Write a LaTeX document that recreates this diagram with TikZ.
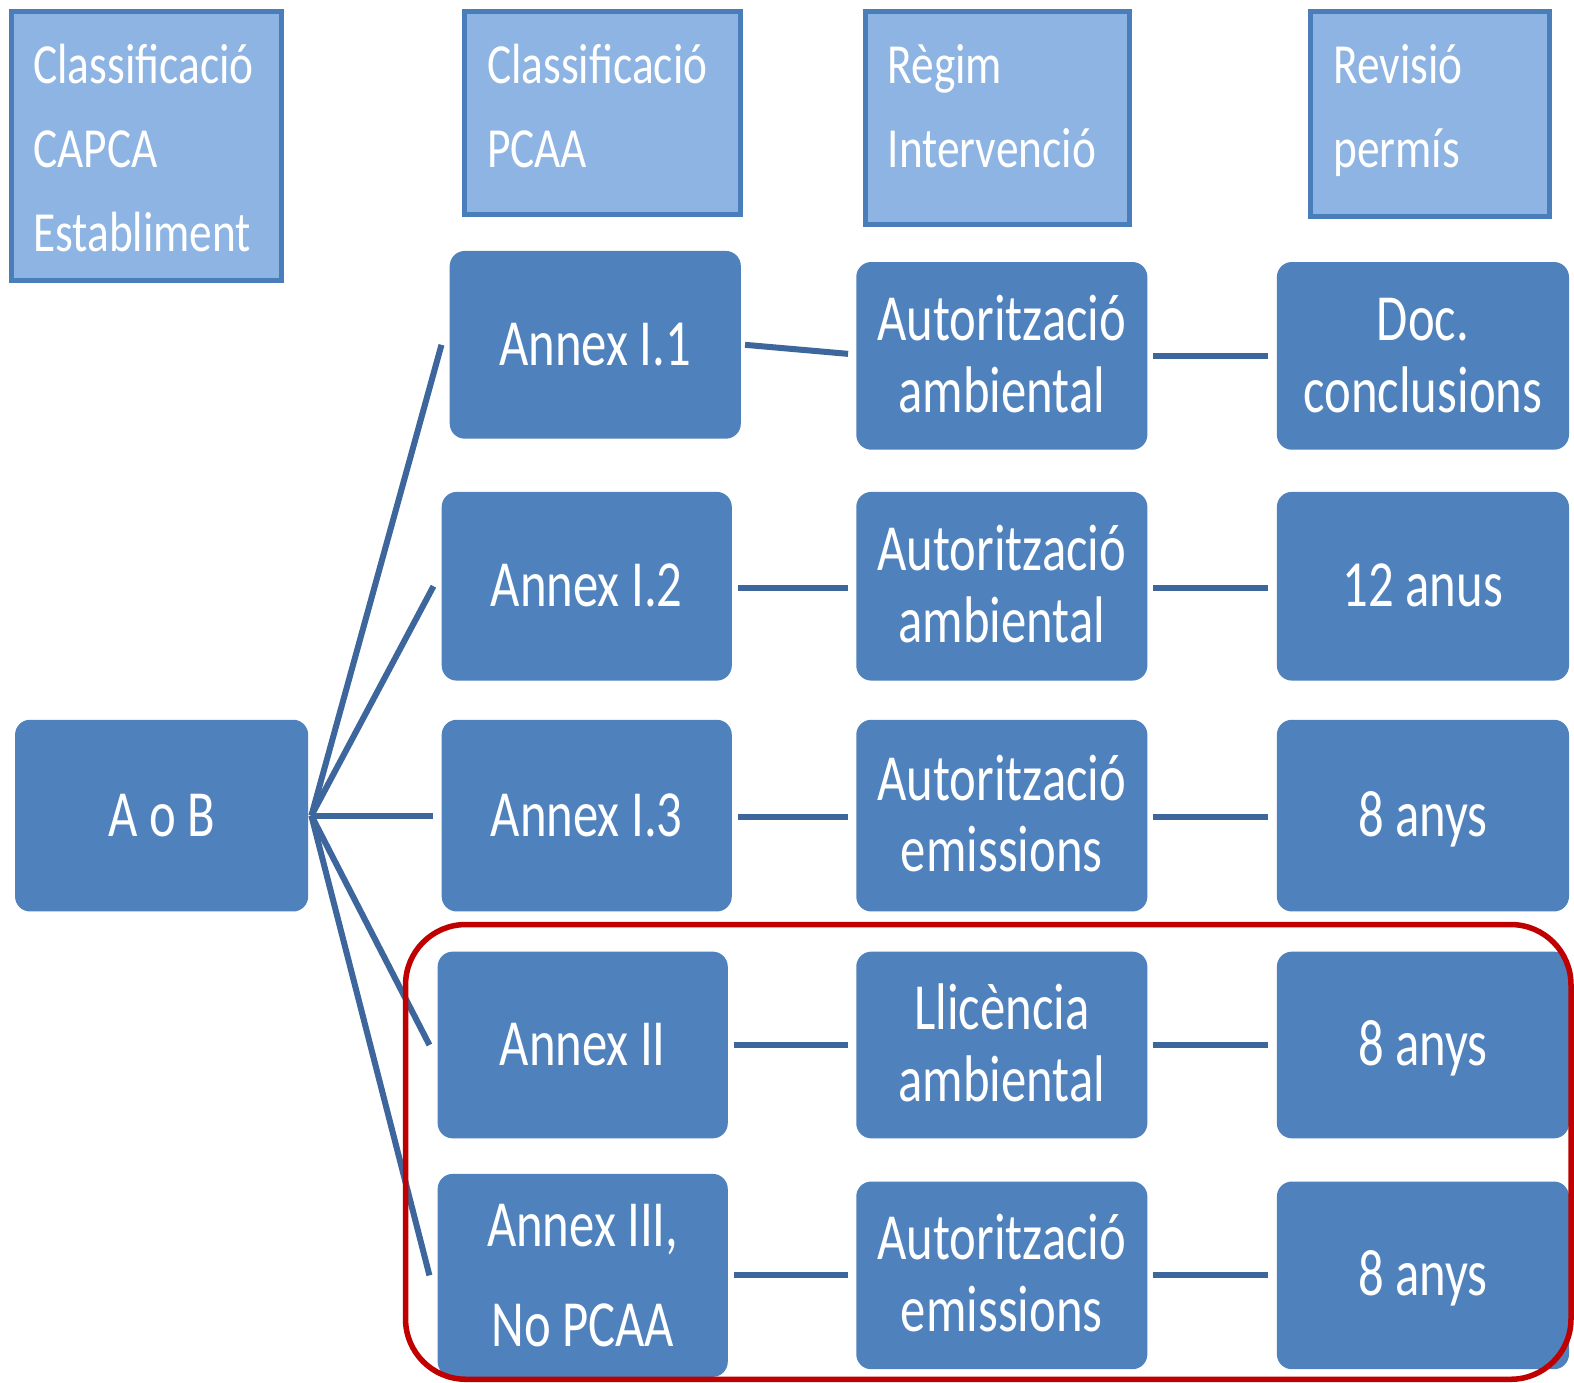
\documentclass[tikz,border=0pt]{standalone}
\usepackage{fontspec}
\setmainfont{Carlito}
\usepackage{graphicx}
\definecolor{mainblue}{HTML}{4F81BD}
\definecolor{hdrfill}{HTML}{8DB4E2}
\definecolor{hdrline}{HTML}{4A7EBB}
\definecolor{linkblue}{HTML}{3D669C}
\definecolor{frame}{HTML}{C00000}
\newcommand\stx[1]{\raisebox{0pt}[\dimexpr\height+12pt\relax][\depth]{\scalebox{1}[1.3]{\begin{tabular}{@{}c@{}}#1\end{tabular}}}}
\newcommand\stxwide[1]{\raisebox{0pt}[\dimexpr\height+2pt\relax][\depth]{\scalebox{1}[1.3]{\begin{tabular}{@{}c@{}}#1\end{tabular}}}}
\newcommand\htx[1]{\scalebox{1}[1.25]{\begin{tabular}{@{}l@{}}#1\end{tabular}}}
\begin{document}
\begin{tikzpicture}[x=1pt,y=-1pt,
  mainbox/.style={fill=mainblue, rounded corners=15pt, minimum width=290pt, minimum height=188pt, inner sep=0pt, text=white, font=\fontsize{50.5}{55}\selectfont},
  hdrbox/.style={draw=hdrline, line width=5pt, fill=hdrfill, inner sep=0pt},
  hdrtext/.style={anchor=west, inner sep=0pt, text=white, font=\fontsize{45.2}{67}\selectfont},
  link/.style={draw=linkblue, line width=6pt},
  redframe/.style={draw=frame, line width=5.5pt, rounded corners=60pt, inner sep=0pt}]
\useasboundingbox[fill=white] (0,0) rectangle (1568,1377);
% headers
\node[hdrbox, minimum width=269pt, minimum height=268pt] (h1) at (145.5,145) {};
\node[hdrbox, minimum width=275pt, minimum height=203pt] (h2) at (600.5,112.5) {};
\node[hdrbox, minimum width=263pt, minimum height=213pt] (h3) at (993.5,117.5) {};
\node[hdrbox, minimum width=239pt, minimum height=205pt] (h4) at (1424.5,113.5) {};
\node[hdrtext] (h1t) at (33,150) {\htx{Classificació\\CAPCA\\Establiment}};
\node[hdrtext] (h2t) at (485,108) {\htx{Classificació\\PCAA}};
\node[hdrtext] (h3t) at (884,108) {\htx{Règim\\Intervenció}};
\node[hdrtext] (h4t) at (1328,108) {\htx{Revisió\\permís}};
% column 1
\node[mainbox, minimum width=292pt, minimum height=191pt] (aob) at (161,812.5) {\stx{A o B}};
% column 2
\node[mainbox, minimum height=187pt] (a11) at (593,343.5) {\stx{Annex I.1}};
\node[mainbox, minimum width=289pt] (a12) at (584.5,584) {\stx{Annex I.2}};
\node[mainbox, minimum width=289pt, minimum height=191pt] (a13) at (584.5,812.5) {\stx{Annex I.3}};
\node[mainbox, minimum width=289pt, minimum height=186pt] (a2) at (580.5,1041) {\stx{Annex II}};
\node[mainbox, minimum width=289pt, minimum height=187pt] (a3) at (580.5,1270.5) {\fontsize{50.5}{77}\selectfont\stxwide{Annex III,\\No PCAA}};
% column 3
\node[mainbox, minimum height=187pt] (b1) at (998,354.5) {\stx{Autorització\\ambiental}};
\node[mainbox] (b2) at (998,584) {\stx{Autorització\\ambiental}};
\node[mainbox, minimum height=191pt] (b3) at (998,812.5) {\stx{Autorització\\emissions}};
\node[mainbox, minimum height=186pt] (b4) at (998,1041) {\stx{Llicència\\ambiental}};
\node[mainbox, minimum height=187pt] (b5) at (998,1270.5) {\stx{Autorització\\emissions}};
% column 4
\node[mainbox, minimum width=291pt, minimum height=187pt] (c1) at (1417.5,354.5) {\stx{Doc.\\conclusions}};
\node[mainbox, minimum width=291pt] (c2) at (1417.5,584) {\stx{12 anus}};
\node[mainbox, minimum width=291pt, minimum height=191pt] (c3) at (1417.5,812.5) {\stx{8 anys}};
\node[mainbox, minimum width=291pt, minimum height=186pt] (c4) at (1417.5,1041) {\stx{8 anys}};
\node[mainbox, minimum width=291pt, minimum height=187pt] (c5) at (1417.5,1270.5) {\stx{8 anys}};
% connectors from A o B
\draw[link] ([xshift=3pt]aob.east) -- ([xshift=-8pt]a11.west);
\draw[link] ([xshift=3pt]aob.east) -- ([xshift=-8pt]a12.west);
\draw[link] ([xshift=3pt]aob.east) -- ([xshift=-8pt]a13.west);
\draw[link] ([xshift=3pt]aob.east) -- ([xshift=-8pt]a2.west);
\draw[link] ([xshift=3pt]aob.east) -- ([xshift=-8pt]a3.west);
% column 2 to column 3
\draw[link] ([xshift=4pt]a11.east) -- ([xshift=-8pt,yshift=2pt]b1.west);
\draw[link] ([xshift=6pt,yshift=-2pt]a12.east) -- ([xshift=-8pt,yshift=-2pt]b2.west);
\draw[link] ([xshift=6pt,yshift=-1pt]a13.east) -- ([xshift=-8pt,yshift=-1pt]b3.west);
\draw[link] ([xshift=6pt]a2.east) -- ([xshift=-8pt]b4.west);
\draw[link] ([xshift=6pt]a3.east) -- ([xshift=-8pt]b5.west);
% column 3 to column 4
\draw[link] ([xshift=5pt]b1.east) -- ([xshift=-9pt]c1.west);
\draw[link] ([xshift=5pt,yshift=-2pt]b2.east) -- ([xshift=-9pt,yshift=-2pt]c2.west);
\draw[link] ([xshift=5pt,yshift=-1pt]b3.east) -- ([xshift=-9pt,yshift=-1pt]c3.west);
\draw[link] ([xshift=5pt]b4.east) -- ([xshift=-9pt]c4.west);
\draw[link] ([xshift=5pt]b5.east) -- ([xshift=-9pt]c5.west);
% red frame
\node[redframe, minimum width=1161pt, minimum height=453pt] (grp) at (984.5,1147.5) {};
\end{tikzpicture}
\end{document}
